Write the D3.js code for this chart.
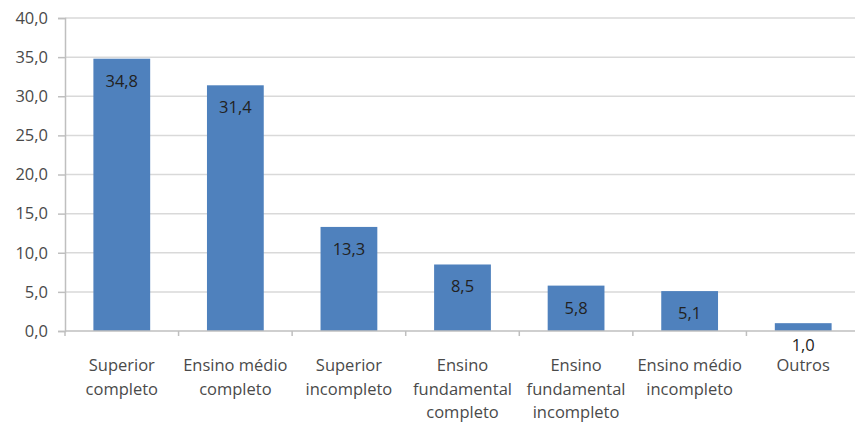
<!DOCTYPE html>
<html><head><meta charset="utf-8">
<script src="https://cdn.jsdelivr.net/npm/d3@7"></script>
<style>body{margin:0;background:#fff}svg{display:block}</style>
</head><body>
<script>
const categories = [["Superior","completo"],["Ensino médio","completo"],["Superior","incompleto"],["Ensino","fundamental","completo"],["Ensino","fundamental","incompleto"],["Ensino médio","incompleto"],["Outros"]];
const values = [34.8, 31.4, 13.3, 8.5, 5.8, 5.1, 1.0];
const yTicks = [0,5,10,15,20,25,30,35,40];

const W = 855, H = 422;
const m = {left:65, top:18, right:-5, bottom:91};
const svg = d3.select("body").append("svg").attr("width",W).attr("height",H);
const fmt = v => v.toFixed(1).replace(".", ",");
const font = "'Open Sans', sans-serif";

const x = d3.scaleBand().domain(d3.range(categories.length)).range([m.left, W - m.right]).paddingInner(0.5).paddingOuter(0.25);
const y = d3.scaleLinear().domain([0,40]).range([H - m.bottom, m.top]);

// gridlines
svg.append("g").selectAll("line").data(yTicks.slice(1)).join("line")
  .attr("x1", m.left).attr("x2", W - m.right)
  .attr("y1", d=>y(d)).attr("y2", d=>y(d))
  .attr("stroke","#d9d9d9").attr("stroke-width",1.5);

// y axis
const ya = svg.append("g").attr("transform",`translate(${m.left},0)`)
  .call(d3.axisLeft(y).tickValues(yTicks).tickFormat(fmt).tickSize(7).tickPadding(10));
ya.select(".domain").attr("stroke","#bfbfbf").attr("stroke-width",1.5);
ya.selectAll(".tick line").attr("stroke","#bfbfbf").attr("stroke-width",1.5);
ya.selectAll("text").attr("font-family",font).attr("font-size","16.5px").attr("fill","#4a4a4a");

// bars
svg.append("g").selectAll("rect").data(values).join("rect")
  .attr("x",(d,i)=>x(i)).attr("width",x.bandwidth())
  .attr("y",d=>y(d)).attr("height",d=>y(0)-y(d))
  .attr("fill","#4f81bd");

// x axis
const step = x.step();
const xb = svg.append("g");
xb.append("line").attr("x1",m.left).attr("x2",W-m.right).attr("y1",y(0)).attr("y2",y(0))
  .attr("stroke","#bfbfbf").attr("stroke-width",1.5);
xb.selectAll("line.t").data(d3.range(categories.length+1)).join("line").attr("class","t")
  .attr("x1",i=>m.left+i*step).attr("x2",i=>m.left+i*step)
  .attr("y1",y(0)).attr("y2",y(0)+5).attr("stroke","#bfbfbf").attr("stroke-width",1.5);

// category labels
const lab = svg.append("g");
categories.forEach((lines,i)=>{
  const t = lab.append("text").attr("text-anchor","middle")
    .attr("font-family",font).attr("font-size","16.5px").attr("fill","#4a4a4a");
  lines.forEach((s,k)=>{
    t.append("tspan").attr("x", x(i)+x.bandwidth()/2).attr("y", 371 + k*23.5).text(s);
  });
});

// value labels
svg.append("g").selectAll("text").data(values).join("text")
  .attr("x",(d,i)=>x(i)+x.bandwidth()/2).attr("y",d=>y(d)+28)
  .attr("text-anchor","middle").attr("font-family",font).attr("font-size","16.5px")
  .attr("fill","#222").text(fmt);
</script>
</body></html>
